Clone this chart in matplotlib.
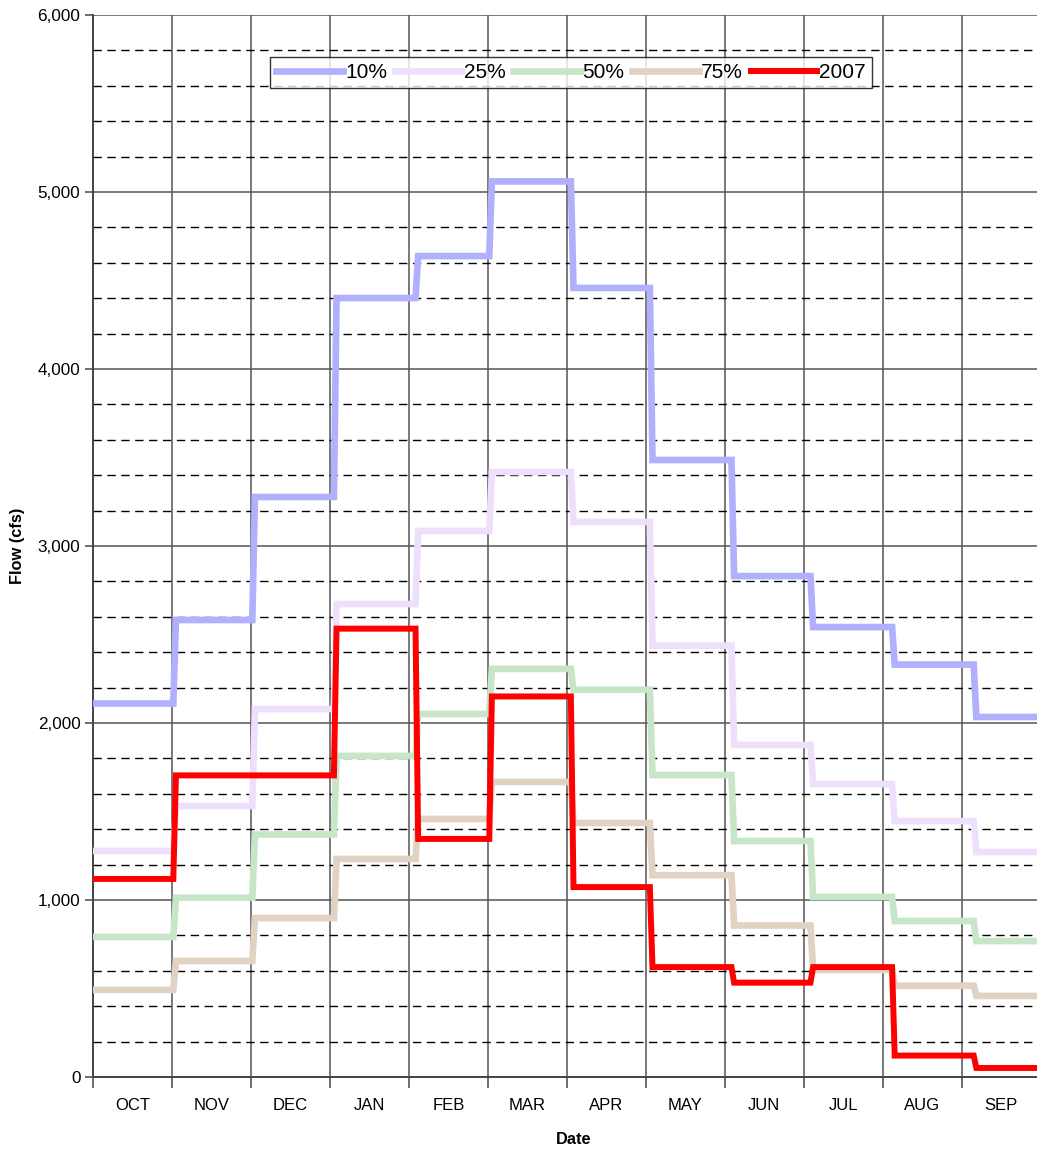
import numpy as np
import matplotlib
matplotlib.use('Agg')
import matplotlib.pyplot as plt
from matplotlib.ticker import MultipleLocator, FuncFormatter, FixedLocator

months = ['OCT', 'NOV', 'DEC', 'JAN', 'FEB', 'MAR', 'APR', 'MAY', 'JUN', 'JUL', 'AUG', 'SEP']
month_days = [31, 30, 31, 31, 28, 31, 30, 31, 30, 31, 31, 30]

# monthly flow (cfs)
p10 = [2110, 2582, 3277, 4401, 4638, 5060, 4458, 3486, 2830, 2542, 2330, 2034]
p25 = [1277, 1531, 2079, 2672, 3085, 3418, 3136, 2437, 1876, 1655, 1446, 1271]
p50 = [791, 1013, 1370, 1814, 2051, 2306, 2188, 1706, 1333, 1017, 881, 768]
p75 = [492, 655, 898, 1232, 1458, 1667, 1435, 1140, 856, 605, 516, 458]
y2007 = [1119, 1704, 1704, 2533, 1345, 2150, 1073, 621, 533, 621, 121, 51]

series = [('10%', p10, '#b0b0fc', 4.8),
          ('25%', p25, '#eee0fd', 4.8),
          ('50%', p50, '#c7e5c7', 4.8),
          ('75%', p75, '#e2d2c3', 4.8),
          ('2007', y2007, '#ff0000', 4.3)]

plt.rcParams['font.family'] = ['Liberation Sans', 'DejaVu Sans']

fig = plt.figure(figsize=(10.37, 11.49), dpi=100)
ax = fig.add_axes([93 / 1037, 1 - 1077 / 1149, 961 / 1037, 1062 / 1149])

days = np.arange(sum(month_days)) + 0.5
for name, vals, col, lw in series:
    daily = np.repeat(vals, month_days)
    ax.plot(days, daily, color=col, lw=lw, label=name, solid_joinstyle='miter', zorder=3)

ax.set_xlim(0, 365)
ax.set_ylim(0, 6000)

# grid: solid at 1000s and every 30 days, dashed every 200 cfs
ax.xaxis.set_major_locator(MultipleLocator(30))
ax.xaxis.set_minor_locator(FixedLocator(np.arange(12) * 30 + 15))
ax.xaxis.set_major_formatter(FuncFormatter(lambda v, p: ''))
ax.xaxis.set_minor_formatter(FuncFormatter(lambda v, p: months[int(v // 30)] if int(v // 30) < 12 else ''))
ax.tick_params(axis='x', which='minor', length=0, pad=15, labelsize=12)
ax.tick_params(axis='x', which='major', length=8, width=1.2, color='#555555', direction='out')

ax.yaxis.set_major_locator(MultipleLocator(1000))
ax.yaxis.set_minor_locator(MultipleLocator(200))
ax.yaxis.set_major_formatter(FuncFormatter(lambda v, p: f'{int(v):,}'))
ax.tick_params(axis='y', which='major', length=6, width=1.2, color='#555555', labelsize=12.3, pad=3)
ax.tick_params(axis='y', which='minor', length=0)

ax.grid(True, which='major', axis='both', color='#555555', lw=1.1, zorder=1)
ax.grid(True, which='minor', axis='y', color='black', lw=1.0, linestyle=(0, (6, 4)), zorder=1)
ax.set_axisbelow(True)

for s in ['top', 'right']:
    ax.spines[s].set_visible(False)
for s in ['left', 'bottom']:
    ax.spines[s].set_color('#444444')
    ax.spines[s].set_linewidth(1.4)

ax.set_xlabel('Date', fontsize=11.8, fontweight='bold', labelpad=14)
ax.set_ylabel('Flow (cfs)', fontsize=11.8, fontweight='bold', labelpad=9)

leg = ax.legend(loc='upper left', bbox_to_anchor=((270 - 93) / 961, 0.9605), ncol=5, fontsize=15,
                frameon=True, fancybox=False, edgecolor='black', borderaxespad=0,
                handlelength=3.2, handletextpad=0.1, columnspacing=0.38,
                borderpad=0.3, handleheight=0.6)
leg.get_frame().set_linewidth(1.0)

plt.savefig('out.png', dpi=100)
